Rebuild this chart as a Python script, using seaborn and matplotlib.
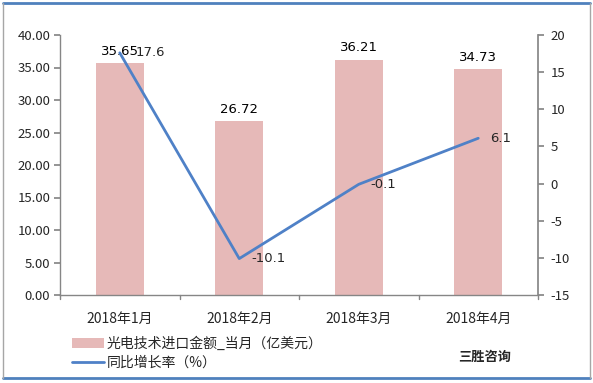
import matplotlib
matplotlib.use("Agg")
import matplotlib.pyplot as plt
import seaborn as sns
import pandas as pd
from matplotlib.patches import Patch
from matplotlib.lines import Line2D

months = ["2018年1月", "2018年2月", "2018年3月", "2018年4月"]
import_value = [35.65, 26.72, 36.21, 34.73]
yoy_growth = [17.6, -10.1, -0.1, 6.1]
bar_label = "光电技术进口金额_当月（亿美元）"
line_label = "同比增长率（%）"
brand = "三胜咨询"

sns.set_theme(style="white")
plt.rcParams['font.family'] = ['Noto Sans CJK SC', 'DejaVu Sans']

bar_color = "#E6B9B8"
line_color = "#4F81C7"
axis_color = "#868686"

df = pd.DataFrame({"month": months, "value": import_value, "growth": yoy_growth})

fig = plt.figure(figsize=(5.93, 3.83), dpi=100)
ax = fig.add_axes([60/593, 1-295/383, (538-60)/593, (295-35)/383])

sns.barplot(data=df, x="month", y="value", color=bar_color, width=0.4,
            saturation=1, ax=ax, edgecolor="none")
ax.set_ylim(0, 40)
ax.set_yticks(range(0, 41, 5))
ax.set_yticklabels([f"{v:.2f}" for v in range(0, 41, 5)], fontsize=9.5)
ax.set_xlim(-0.5, 3.5)
ax.set_xlabel("")
ax.set_ylabel("")
ax.set_xticks([0, 1, 2, 3])
ax.set_xticklabels(months, fontsize=10)
ax.tick_params(axis="x", length=0, pad=12)
ax.tick_params(axis="y", length=4, color=axis_color, direction="out", pad=3, left=True)
for xb in [-0.5, 0.5, 1.5, 2.5, 3.5]:
    ax.plot([xb, xb], [0, -0.6], color=axis_color, lw=1, clip_on=False, transform=ax.transData)
for s in ["top", "right"]:
    ax.spines[s].set_visible(False)
for s in ["left", "bottom"]:
    ax.spines[s].set_color(axis_color)
    ax.spines[s].set_linewidth(1)

for i, v in enumerate(import_value):
    ax.text(i, v + 0.8, f"{v:.2f}", ha="center", va="bottom", fontsize=9.5, color="#000000",
            family=["DejaVu Sans"])

ax2 = ax.twinx()
sns.lineplot(x=list(range(len(months))), y=yoy_growth, ax=ax2, color=line_color, lw=2, sort=False)
ax2.set_ylim(-15, 20)
ax2.set_yticks(range(-15, 21, 5))
ax2.set_yticklabels([str(v) for v in range(-15, 21, 5)], fontsize=9.5)
ax2.tick_params(axis="y", length=4, color=axis_color, direction="out", pad=5, right=True)
for s in ["top", "left", "bottom"]:
    ax2.spines[s].set_visible(False)
ax2.spines["right"].set_color(axis_color)
ax2.set_xlim(-0.5, 3.5)
for i, v in enumerate(yoy_growth):
    ax2.annotate(f"{v}", (i, v), xytext=(11.5 if i == 0 else 8.6, 0), textcoords="offset points",
                 ha="left", va="center", fontsize=9.5, family=["DejaVu Sans"])

handles = [Patch(facecolor=bar_color, edgecolor="none"),
           Line2D([0], [0], color=line_color, lw=2)]
fig.legend(handles, [bar_label, line_label], loc="upper left",
           bbox_to_anchor=(66/593, 1-331/383), frameon=False, fontsize=10,
           handlelength=2.3, handletextpad=0.2, labelspacing=0.35, borderaxespad=0)

fig.text(458/593, 1-357/383, brand, fontsize=9.5, fontweight="bold", ha="left", va="center")

fig.add_artist(Line2D([0.005, 0.995], [0.992, 0.992], transform=fig.transFigure, color="#4F81BD", lw=2))
fig.add_artist(Line2D([0.005, 0.995], [0.012, 0.012], transform=fig.transFigure, color="#4F81BD", lw=2))
fig.add_artist(Line2D([0.005, 0.005], [0.012, 0.992], transform=fig.transFigure, color="#A6A6A6", lw=1))
fig.add_artist(Line2D([0.995, 0.995], [0.012, 0.992], transform=fig.transFigure, color="#A6A6A6", lw=1))

fig.savefig("out.png", dpi=100)
